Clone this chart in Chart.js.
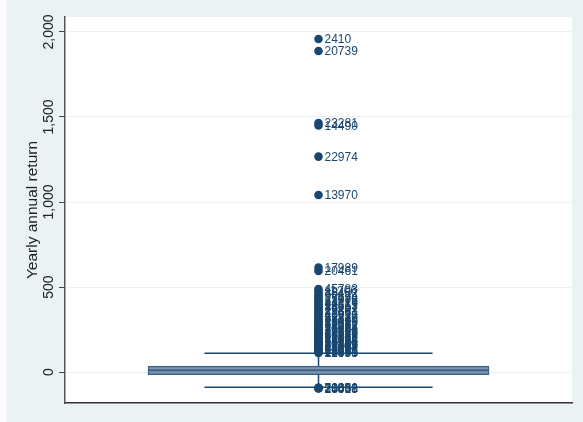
<!DOCTYPE html>
<html>
<head>
<meta charset="utf-8">
<script src="https://cdn.jsdelivr.net/npm/chart.js@4.4.1/dist/chart.umd.min.js"></script>
<style>
  html, body { margin: 0; padding: 0; background: #eaf2f3; }
  canvas { display: block; }
</style>
</head>
<body>
<canvas id="boxChart" width="583" height="422"></canvas>
<script>
// Box summary: q1, median, q3 and whisker ends
const quartiles = [-15, 10, 35];
const whiskers = [-90, 110];

// Outliers (value, id label)
const outlierValues = [
    1959, 1888, 1465, 1450, 1267, 1041, 614, 594,
    488, 476, 465, 452, 441, 430, 421, 410, 398, 389, 378, 369, 358, 349,
    340, 331, 322, 313, 305, 297, 289, 281, 273, 266, 259, 252, 245, 238,
    231, 225, 219, 213, 207, 201, 195, 189, 184, 178, 173, 168, 163, 158,
    153, 148, 144, 139, 135, 131, 127, 123, 119, 116, 113,
    -92, -93, -94, -95, -97
];
const outlierIds = [
    '2410', '20739', '23281', '14490', '22974', '13970', '17989', '20461',
    '45783', '11206', '38452', '9917', '27634', '15088', '31275', '4421', '22819', '18563', '36107', '7740', '29381', '12654',
    '40218', '21937', '5382', '33749', '16420', '26095', '8813', '39561', '14277', '24908', '3165', '30842', '19716', '42390',
    '10583', '28117', '6694', '35228', '17359', '23641', '1987', '37904', '13482', '25730', '9056', '32461', '20175', '41839',
    '11763', '27508', '4930', '34612', '18247', '22086', '7318', '39074', '15901', '26453', '12390',
    '20051', '31882', '7063', '25518', '14460'
];

const yTickValues = [0, 500, 1000, 1500, 2000];
const yTickLabels = ['0', '500', '1,000', '1,500', '2,000'];
const yTitle = 'Yearly annual return';

const FONT = "'Liberation Sans', Arial, sans-serif";
const NAVY = '#1a476f';

// White plot region on the grey-blue page
const plotBackground = {
    id: 'plotBackground',
    beforeDraw(chart) {
        const { ctx, chartArea } = chart;
        ctx.save();
        ctx.fillStyle = '#fafcfc';
        ctx.fillRect(0, 0, 7, chart.height);
        ctx.fillStyle = '#ffffff';
        ctx.fillRect(chartArea.left, chartArea.top, chartArea.right - chartArea.left, chartArea.bottom - chartArea.top);
        ctx.restore();
    }
};

// Vertical tick labels, Stata style
const rotatedTicks = {
    id: 'rotatedTicks',
    afterDraw(chart) {
        const { ctx } = chart;
        const y = chart.scales.y;
        ctx.save();
        ctx.font = '14px ' + FONT;
        ctx.fillStyle = '#222';
        ctx.textAlign = 'center';
        ctx.textBaseline = 'middle';
        yTickValues.forEach((v, i) => {
            ctx.save();
            ctx.translate(49, y.getPixelForValue(v));
            ctx.rotate(-Math.PI / 2);
            ctx.fillText(yTickLabels[i], 0, 0);
            ctx.restore();
        });
        ctx.restore();
    }
};

// Marker labels next to outliers
const outlierLabels = {
    id: 'outlierLabels',
    afterDatasetsDraw(chart) {
        const { ctx } = chart;
        const meta = chart.getDatasetMeta(0);
        ctx.save();
        ctx.font = '12px ' + FONT;
        ctx.fillStyle = NAVY;
        ctx.textAlign = 'left';
        ctx.textBaseline = 'middle';
        meta.data.forEach((pt, i) => {
            ctx.fillText(outlierIds[i], pt.x + 6, pt.y + 1);
        });
        ctx.restore();
    }
};

const boxHalf = 0.672;
const capHalf = 0.45;

function segment(x1, y1, x2, y2, width) {
    return {
        type: 'line',
        data: [{ x: x1, y: y1 }, { x: x2, y: y2 }],
        borderColor: NAVY,
        borderWidth: width,
        pointRadius: 0,
        fill: false
    };
}

new Chart(document.getElementById('boxChart'), {
    type: 'scatter',
    data: {
        datasets: [
            {
                type: 'scatter',
                data: outlierValues.map(v => ({ x: 0, y: v })),
                backgroundColor: NAVY,
                borderColor: NAVY,
                pointRadius: 4.3,
                borderWidth: 0
            },
            segment(-capHalf, whiskers[1], capHalf, whiskers[1], 1.5),
            segment(-capHalf, whiskers[0], capHalf, whiskers[0], 1.5),
            segment(0, quartiles[2], 0, whiskers[1], 1.5),
            segment(0, quartiles[0], 0, whiskers[0], 1.5),
            {
                type: 'line',
                data: [{ x: -boxHalf, y: quartiles[1] }, { x: boxHalf, y: quartiles[1] }],
                borderColor: '#3e6186',
                borderWidth: 2,
                pointRadius: 0
            },
            {
                type: 'bar',
                data: [{ x: 0, y: [quartiles[0], quartiles[2]] }],
                backgroundColor: '#7f97b2',
                borderColor: '#3e6186',
                borderWidth: 1.5,
                borderSkipped: false,
                barThickness: 341
            }
        ]
    },
    options: {
        responsive: false,
        animation: false,
        layout: { padding: { top: 17, right: 11, bottom: 19, left: 0 } },
        plugins: {
            legend: { display: false },
            tooltip: { enabled: false }
        },
        scales: {
            x: {
                type: 'linear',
                min: -1,
                max: 1,
                offset: false,
                ticks: { display: false },
                grid: { display: false, drawTicks: false },
                border: { display: true, color: '#333', width: 1.5 },
                afterFit: s => { s.height = 0; }
            },
            y: {
                min: -182,
                max: 2088,
                afterBuildTicks: s => { s.ticks = yTickValues.map(v => ({ value: v })); },
                ticks: { display: false },
                grid: { color: '#eaf2f3', lineWidth: 1, tickLength: 6, tickColor: '#444' },
                border: { color: '#555', width: 1.5 },
                title: {
                    display: true,
                    text: yTitle,
                    color: '#222',
                    font: { family: FONT, size: 15.5 },
                    padding: { top: 23, bottom: 0 }
                },
                afterFit: s => { s.width = 65; }
            }
        }
    },
    plugins: [plotBackground, rotatedTicks, outlierLabels]
});
</script>
</body>
</html>
